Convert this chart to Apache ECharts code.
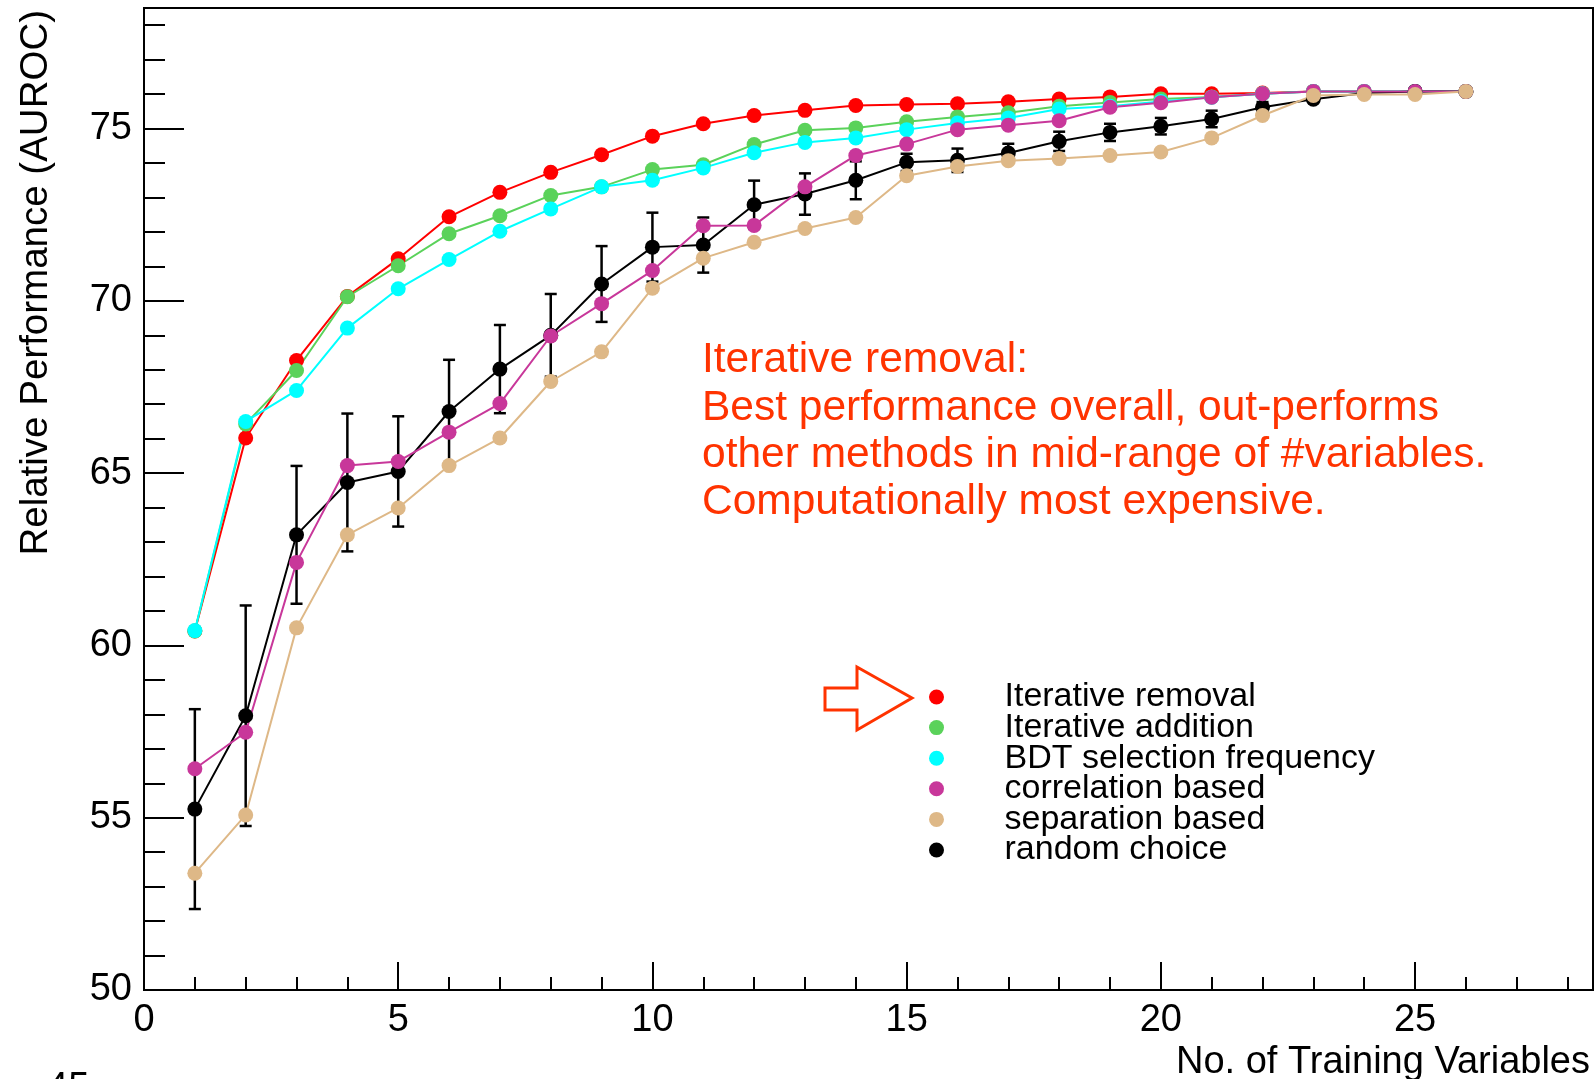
<!DOCTYPE html>
<html>
<head>
<meta charset="utf-8">
<script src="https://cdn.jsdelivr.net/npm/echarts@6/dist/echarts.min.js"></script>
<style>
html,body{margin:0;padding:0;background:#fff;}
#chart{width:1596px;height:1079px;}
</style>
</head>
<body>
<div id="chart"></div>
<script>
// ---- data ----
var nVars = [1,2,3,4,5,6,7,8,9,10,11,12,13,14,15,16,17,18,19,20,21,22,23,24,25,26];
var iterRemoval = [60.42,66.02,68.27,70.13,71.22,72.44,73.15,73.73,74.24,74.78,75.14,75.38,75.53,75.67,75.70,75.72,75.78,75.86,75.92,76.01,76.01,76.03,76.08,76.08,76.08,76.08];
var iterAddition = [60.42,66.43,67.98,70.12,71.02,71.95,72.47,73.06,73.31,73.81,73.95,74.54,74.95,75.02,75.20,75.34,75.46,75.65,75.76,75.86,75.92,76.01,76.08,76.08,76.08,76.08];
var bdtFreq = [60.43,66.50,67.40,69.21,70.35,71.20,72.02,72.67,73.31,73.50,73.86,74.30,74.60,74.73,74.97,75.16,75.31,75.57,75.65,75.79,75.91,76.01,76.08,76.08,76.08,76.08];
var corrBased = [56.42,57.48,62.41,65.22,65.34,66.19,67.02,68.98,69.92,70.88,72.18,72.19,73.31,74.22,74.55,74.97,75.10,75.23,75.62,75.75,75.91,76.01,76.08,76.08,76.08,76.08];
var sepBased = [53.39,55.08,60.51,63.21,63.99,65.22,66.02,67.66,68.52,70.37,71.24,71.70,72.10,72.42,73.63,73.90,74.07,74.13,74.22,74.32,74.73,75.38,75.96,75.99,75.99,76.08];
var randomChoice = [55.25,57.96,63.21,64.73,65.05,66.79,68.02,69.00,70.49,71.56,71.62,72.79,73.10,73.50,74.02,74.08,74.29,74.63,74.89,75.07,75.28,75.62,75.85,76.03,76.08,76.08];
var randomErr = [2.9,3.2,2.0,2.0,1.6,1.5,1.28,1.2,1.1,1.0,0.8,0.7,0.6,0.55,0.25,0.34,0.27,0.28,0.25,0.24,0.24,0.15,0.08,0.05,0.02,0];
var seriesNames = ['Iterative removal','Iterative addition','BDT selection frequency','correlation based','separation based','random choice'];
var annotationLines = ['Iterative removal:','Best performance overall, out-performs','other methods in mid-range of #variables.','Computationally most expensive.'];
var xTitle = 'No. of Training Variables';
var yTitle = 'Relative Performance (AUROC)';
var pageFragment = '45';

// ---- helpers ----
var FONT = "'Liberation Sans', Arial, Helvetica, sans-serif";
function pairs(ys){ return nVars.map(function(x,i){ return [x, ys[i]]; }); }
function lineSeries(name, ys, color){
  return {
    name: name, type: 'line', data: pairs(ys), xAxisIndex: 0, yAxisIndex: 0,
    symbol: 'circle', symbolSize: 15, showSymbol: true,
    lineStyle: {color: color, width: 2},
    itemStyle: {color: color},
    emphasis: {disabled: true}
  };
}

var chart = echarts.init(document.getElementById('chart'), null, {renderer: 'canvas'});
var option = {
  animation: false,
  backgroundColor: '#ffffff',
  grid: {left: 144, right: 3, top: 8, bottom: 89, show: true, borderColor: '#000', borderWidth: 2, containLabel: false},
  xAxis: [
    {type: 'value', min: 0, max: 28.5, interval: 5, position: 'bottom',
     axisLine: {show: true, onZero: false, lineStyle: {color: '#000', width: 2}},
     axisTick: {show: true, inside: true, length: 28, lineStyle: {color: '#000', width: 2}},
     axisLabel: {show: true, showMaxLabel: false, fontSize: 38, fontFamily: FONT, color: '#000', margin: 12},
     splitLine: {show: false}},
    {type: 'value', min: 0, max: 28.5, interval: 1, position: 'bottom',
     axisLine: {show: false},
     axisTick: {show: true, inside: true, length: 13, lineStyle: {color: '#000', width: 2}},
     axisLabel: {show: false}, splitLine: {show: false}}
  ],
  yAxis: [
    {type: 'value', min: 50, max: 78.5, interval: 5, position: 'left',
     axisLine: {show: true, onZero: false, lineStyle: {color: '#000', width: 2}},
     axisTick: {show: true, inside: true, length: 40, lineStyle: {color: '#000', width: 2}},
     axisLabel: {show: true, showMaxLabel: false, fontSize: 38, fontFamily: FONT, color: '#000', margin: 12, padding: [8,0,0,0]},
     splitLine: {show: false}},
    {type: 'value', min: 50, max: 78.5, interval: 1, position: 'left',
     axisLine: {show: false},
     axisTick: {show: true, inside: true, length: 21, lineStyle: {color: '#000', width: 2}},
     axisLabel: {show: false}, splitLine: {show: false}}
  ],
  legend: {
    show: true, orient: 'vertical', left: 924, top: 675,
    data: seriesNames, icon: 'circle', itemWidth: 126, itemHeight: 15, itemGap: -3.4,
    selectedMode: false,
    textStyle: {fontSize: 34, fontFamily: FONT, color: '#000', lineHeight: 30}
  },
  series: [
    lineSeries(seriesNames[0], iterRemoval, '#ff0000'),
    lineSeries(seriesNames[1], iterAddition, '#5ad25a'),
    lineSeries(seriesNames[2], bdtFreq, '#00ffff'),
    lineSeries(seriesNames[5], randomChoice, '#000000'),
    {
      name: 'random choice uncertainty', type: 'custom', xAxisIndex: 0, yAxisIndex: 0,
      data: nVars.map(function(x,i){ return [x, randomChoice[i], randomErr[i]]; }),
      renderItem: function(params, api){
        var x = api.value(0), y = api.value(1), e = api.value(2);
        var top = api.coord([x, y + e]);
        var bot = api.coord([x, y - e]);
        var hw = 6;
        var st = {stroke: '#000', lineWidth: 2.5};
        return {type: 'group', children: [
          {type: 'line', shape: {x1: top[0], y1: top[1], x2: bot[0], y2: bot[1]}, style: st},
          {type: 'line', shape: {x1: top[0]-hw, y1: top[1], x2: top[0]+hw, y2: top[1]}, style: st},
          {type: 'line', shape: {x1: bot[0]-hw, y1: bot[1], x2: bot[0]+hw, y2: bot[1]}, style: st}
        ]};
      }
    },
    lineSeries(seriesNames[3], corrBased, '#c8379a'),
    lineSeries(seriesNames[4], sepBased, '#deb887')
  ],
  graphic: [
    {type: 'text', rotation: Math.PI/2, x: 36, y: 10,
     style: {text: yTitle, font: '38.5px ' + FONT, fill: '#000', align: 'right', verticalAlign: 'middle'}},
    {type: 'text', x: 1590, y: 1063,
     style: {text: xTitle, font: '38px ' + FONT, fill: '#000', align: 'right', verticalAlign: 'middle'}},
    {type: 'text', x: 702, y: 337,
     style: {text: annotationLines.join('\n'), font: '42.5px ' + FONT, lineHeight: 47.2, fill: '#ff3300', align: 'left', verticalAlign: 'top'}},
    {type: 'polygon', shape: {points: [[825,688],[857,688],[857,667],[912,698],[857,730],[857,710],[825,710]]},
     style: {fill: 'none', stroke: '#ff3300', lineWidth: 3}},
    {type: 'text', x: 47, y: 1070,
     style: {text: pageFragment, font: '38px ' + FONT, fill: '#000', align: 'left', verticalAlign: 'top'}}
  ]
};
chart.setOption(option);
</script>
</body>
</html>
